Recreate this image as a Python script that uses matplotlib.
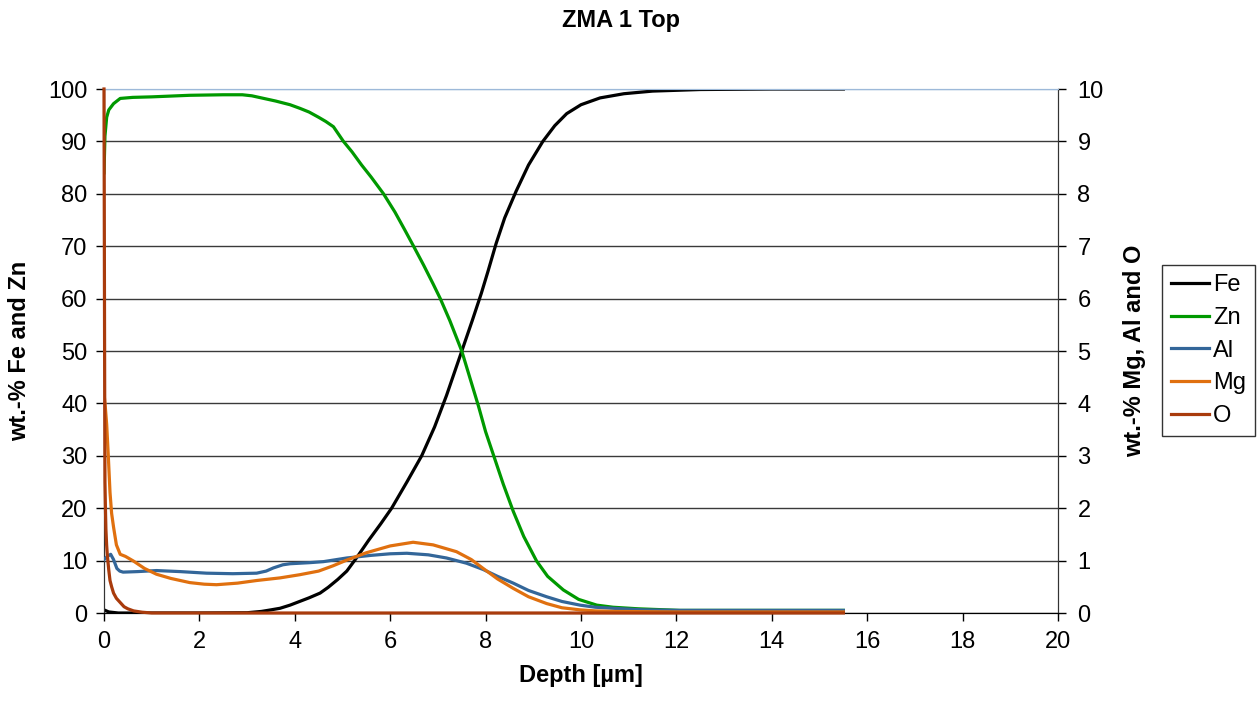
import matplotlib
matplotlib.use("Agg")
import matplotlib.pyplot as plt

plt.rcParams['font.family'] = ['Liberation Sans', 'DejaVu Sans']

# ---- data ----
depth_fe = [0, 0.1, 0.3, 2, 3, 3.3, 3.5, 3.69, 3.9, 4.1, 4.3, 4.53, 4.7, 4.9, 5.09,
            5.3, 5.55, 5.8, 6.03, 6.35, 6.66, 6.93, 7.18, 7.35, 7.52, 7.72,
            7.91, 8.05, 8.22, 8.4, 8.64, 8.9, 9.2, 9.45, 9.7, 10.0, 10.4, 10.9,
            11.5, 12.5, 14, 15.5]
fe = [0.6, 0.2, 0, 0, 0.05, 0.3, 0.6, 0.9, 1.5, 2.2, 2.9, 3.8, 4.9, 6.4, 8.0,
      10.6, 13.9, 17.0, 20, 25, 30, 35.5, 41.5, 46, 50.5, 55.8,
      61, 65.2, 70.5, 75.4, 80.5, 85.5, 90, 93, 95.3, 97, 98.3, 99.1,
      99.6, 99.9, 100, 100]

depth_zn = [0, 0.02, 0.056, 0.1, 0.2, 0.34, 0.6, 1, 1.8, 2.5, 2.9, 3.1, 3.3, 3.6,
            3.9, 4.11, 4.3, 4.5, 4.65, 4.81, 5.02, 5.2, 5.4, 5.6, 5.86, 6.1, 6.3,
            6.49, 6.7, 6.9, 7.05, 7.25, 7.5, 7.68, 7.85, 8.0, 8.2, 8.37, 8.58, 8.8,
            9.07, 9.3, 9.63, 9.95, 10.33, 10.67, 11.2, 12.07, 15.5]
zn = [84, 91, 94.6, 96, 97.2, 98.2, 98.4, 98.5, 98.8, 98.9, 98.9, 98.7, 98.3, 97.7,
      97.0, 96.3, 95.6, 94.6, 93.8, 92.8, 90.0, 88.0, 85.5, 83.2, 80, 76.5, 73.2,
      70, 66.4, 62.8, 60, 55.8, 50, 44.6, 39.5, 34.6, 29.2, 24.6, 19.4, 14.6,
      9.9, 7.0, 4.4, 2.6, 1.5, 1.1, 0.8, 0.5, 0.5]

depth_al = [0, 0.07, 0.14, 0.2, 0.27, 0.33, 0.4, 0.7, 1.1, 1.6, 2.15, 2.7, 3.2, 3.4,
            3.55, 3.75, 3.9, 4.3, 4.6, 5.09, 5.6, 6.0, 6.35, 6.8, 7.18, 7.6, 7.95,
            8.25, 8.58, 8.9, 9.28, 9.6, 9.98, 10.3, 10.67, 11.3, 12.07, 15.5]
al = [1.02, 1.08, 1.12, 1.02, 0.85, 0.8, 0.78, 0.79, 0.81, 0.79, 0.76, 0.75, 0.76, 0.8,
      0.86, 0.92, 0.94, 0.96, 0.98, 1.05, 1.1, 1.13, 1.14, 1.11, 1.05, 0.95, 0.83,
      0.7, 0.57, 0.43, 0.31, 0.22, 0.15, 0.11, 0.09, 0.06, 0.05, 0.05]

depth_mg = [0, 0.03, 0.056, 0.09, 0.126, 0.16, 0.2, 0.26, 0.34, 0.45, 0.62, 0.85,
            1.1, 1.4, 1.8, 2.1, 2.36, 2.8, 3.2, 3.69, 4.1, 4.5, 4.8, 5.09, 5.5, 6.0,
            6.48, 6.9, 7.39, 7.7, 7.95, 8.25, 8.58, 8.9, 9.28, 9.6, 9.98, 10.3,
            10.7, 12, 15.5]
mg = [4.2, 3.9, 3.6, 3.0, 2.3, 1.9, 1.64, 1.3, 1.12, 1.08, 0.99, 0.85,
      0.74, 0.66, 0.58, 0.55, 0.54, 0.57, 0.62, 0.67, 0.73, 0.8, 0.9, 1.01, 1.15, 1.28,
      1.35, 1.3, 1.17, 1.02, 0.85, 0.65, 0.47, 0.31, 0.18, 0.1, 0.06, 0.04,
      0.03, 0.02, 0.02]

depth_o = [0, 0.005, 0.01, 0.015, 0.02, 0.03, 0.04, 0.055, 0.07, 0.1, 0.126, 0.16,
           0.2, 0.26, 0.34, 0.42, 0.5, 0.62, 0.8, 1.0, 15.5]
o = [10, 8, 6, 4, 2.5, 2.0, 1.6, 1.3, 1.1, 0.82, 0.62, 0.5,
     0.38, 0.28, 0.2, 0.12, 0.08, 0.04, 0.015, 0, 0]

x_ticks = [0, 2, 4, 6, 8, 10, 12, 14, 16, 18, 20]
left_ticks = [0, 10, 20, 30, 40, 50, 60, 70, 80, 90, 100]
right_ticks = [0, 1, 2, 3, 4, 5, 6, 7, 8, 9, 10]

# ---- figure ----
fig = plt.figure(figsize=(12.58, 7.09), dpi=100)
ax = fig.add_axes([104 / 1258, 1 - 613 / 709, (1058 - 104) / 1258, (613 - 89) / 709])
ax2 = ax.twinx()

lw = 2.3
l_fe, = ax.plot(depth_fe, fe, color='black', lw=lw, label='Fe', zorder=3)
l_zn, = ax.plot(depth_zn, zn, color='#009900', lw=lw, label='Zn', zorder=3)
l_al, = ax2.plot(depth_al, al, color='#336699', lw=lw, label='Al', zorder=3)
l_mg, = ax2.plot(depth_mg, mg, color='#E0700F', lw=lw, label='Mg', zorder=3)
l_o, = ax2.plot(depth_o, o, color='#A93B0C', lw=lw, label='O', zorder=4,
                clip_on=False)

ax.set_xlim(0, 20)
ax.set_ylim(0, 100)
ax2.set_ylim(0, 10)
ax.set_xticks(x_ticks)
ax.set_yticks(left_ticks)
ax2.set_yticks(right_ticks)

ax.yaxis.grid(True, color='#3a3a3a', lw=1.0)
ax.set_axisbelow(True)
gls = ax.yaxis.get_gridlines()
gls[-1].set_color('#9DB9D9')

for a in (ax, ax2):
    a.tick_params(axis='both', direction='out', length=6, width=1, labelsize=17,
                  colors='black')
    a.spines['top'].set_color('#9DB9D9')
    a.spines['left'].set_color('#333333')
    a.spines['right'].set_color('#333333')
    a.spines['bottom'].set_color('black')
ax.tick_params(axis='y', pad=6)
ax2.tick_params(axis='y', pad=8)
ax.tick_params(axis='x', pad=7)

ax.set_xlabel('Depth [µm]', fontsize=17, fontweight='bold', labelpad=8)
ax.set_ylabel('wt.-% Fe and Zn', fontsize=17, fontweight='bold', labelpad=12)
ax2.set_ylabel('wt.-% Mg, Al and O', fontsize=17, fontweight='bold', labelpad=14)
fig.text(621 / 1258, 1 - 21 / 709, 'ZMA 1 Top', ha='center', va='center',
         fontsize=17, fontweight='bold')

leg = fig.legend(handles=[l_fe, l_zn, l_al, l_mg, l_o],
                 loc='upper left', bbox_to_anchor=(1162 / 1258, 1 - 265 / 709),
                 fontsize=17, frameon=True, fancybox=False, handlelength=1.6,
                 handletextpad=0.15, borderpad=0.4, labelspacing=0.45,
                 borderaxespad=0)
leg.get_frame().set_edgecolor('black')
leg.get_frame().set_linewidth(1.0)

fig.savefig('out.png', dpi=100)
